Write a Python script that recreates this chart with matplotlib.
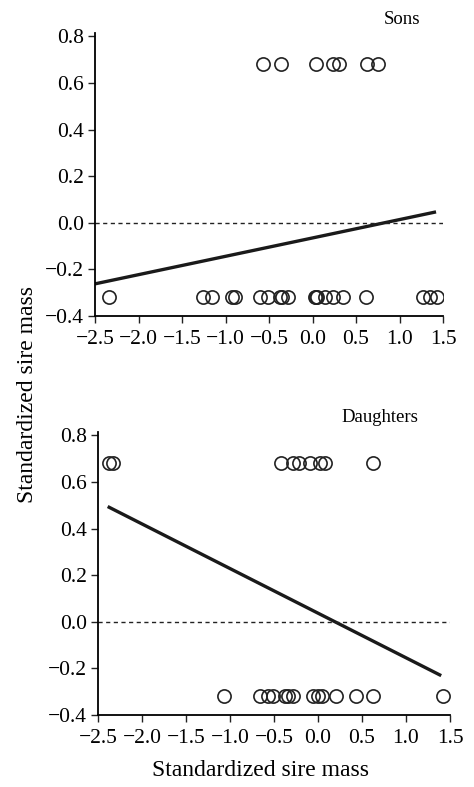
import numpy as np
import matplotlib
matplotlib.use("Agg")
import matplotlib.pyplot as plt

plt.rcParams['font.family'] = ['Liberation Serif', 'DejaVu Serif']

# Sons panel
sons_hi_x = [-0.57, -0.36, 0.04, 0.24, 0.30, 0.63, 0.75]
sons_lo_x = [-2.34, -1.26, -1.16, -0.93, -0.89, -0.60, -0.51, -0.37, -0.35,
             -0.28, 0.03, 0.04, 0.05, 0.14, 0.24, 0.35, 0.62, 1.27, 1.35, 1.43]
sons_line_x = [-2.5, 1.42]
sons_line_y = [-0.262, 0.047]

# Daughters panel
dau_hi_x = [-2.37, -2.33, -0.42, -0.28, -0.22, -0.09, 0.02, 0.08, 0.63]
dau_lo_x = [-1.07, -0.66, -0.57, -0.51, -0.38, -0.34, -0.28, -0.06, 0.0,
            0.04, 0.21, 0.43, 0.63, 1.42]
dau_line_x = [-2.39, 1.40]
dau_line_y = [0.495, -0.231]

y_hi = 0.68
y_lo = -0.32

xticks = [-2.5, -2.0, -1.5, -1.0, -0.5, 0.0, 0.5, 1.0, 1.5]
yticks = [-0.4, -0.2, 0.0, 0.2, 0.4, 0.6, 0.8]


def fmt(v):
    return '\u2212%.1f' % -v if v < 0 else '%.1f' % v


fig = plt.figure(figsize=(4.74, 7.87), dpi=100)
ax1 = fig.add_axes([95 / 474, 1 - 316 / 787, 348 / 474, 283 / 787])
ax2 = fig.add_axes([98 / 474, 1 - 715 / 787, 352 / 474, 283 / 787])

panels = [
    (ax1, sons_hi_x, sons_lo_x, sons_line_x, sons_line_y),
    (ax2, dau_hi_x, dau_lo_x, dau_line_x, dau_line_y),
]

for ax, hx, lx, lnx, lny in panels:
    ax.plot(hx, [y_hi] * len(hx), 'o', mfc='none', mec='#222222', ms=9.5, mew=1.2)
    ax.plot(lx, [y_lo] * len(lx), 'o', mfc='none', mec='#222222', ms=9.5, mew=1.2)
    ax.plot(lnx, lny, color='#1a1a1a', lw=2.4, solid_capstyle='butt')
    ax.axhline(0, color='#222222', lw=1.0, ls=(0, (3, 2.5)))
    ax.set_xlim(-2.5, 1.5)
    ax.set_ylim(-0.4, 0.815)
    ax.set_xticks(xticks)
    ax.set_yticks(yticks)
    ax.set_xticklabels([fmt(v) for v in xticks])
    ax.set_yticklabels([fmt(v) for v in yticks])
    ax.spines['top'].set_visible(False)
    ax.spines['right'].set_visible(False)
    ax.spines['left'].set_linewidth(1.3)
    ax.spines['bottom'].set_linewidth(1.3)
    ax.tick_params(direction='out', length=5, width=1.0, labelsize=15.5,
                   color='#222222')
    ax.tick_params(axis='x', pad=5)
    ax.tick_params(axis='y', pad=3)

fig.text(402 / 474, 1 - 20 / 787, 'Sons', ha='center', va='center', fontsize=13.5)
fig.text(380 / 474, 1 - 418 / 787, 'Daughters', ha='center', va='center', fontsize=13.5)
fig.text(28 / 474, 1 - 395 / 787, 'Standardized sire mass', rotation=90,
         ha='center', va='center', fontsize=17)
fig.text(260 / 474, 1 - 770 / 787, 'Standardized sire mass',
         ha='center', va='center', fontsize=17)

fig.savefig('out.png', dpi=100)
